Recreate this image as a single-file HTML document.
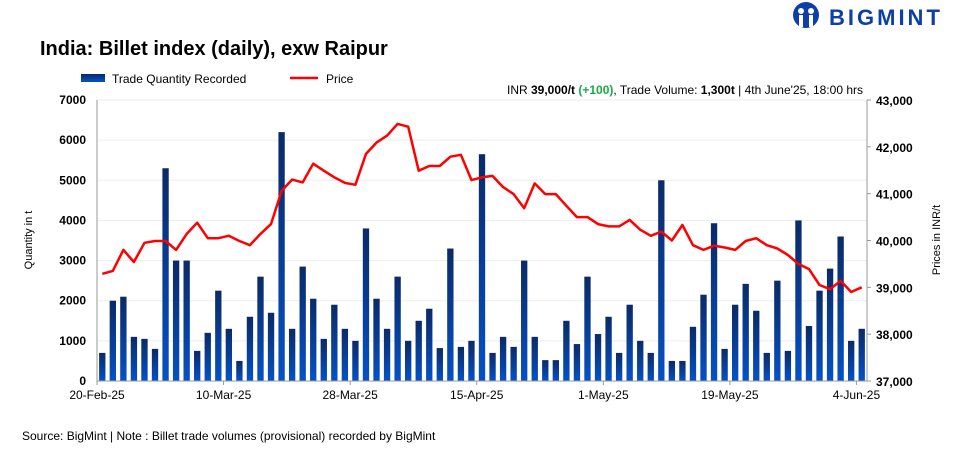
<!DOCTYPE html>
<html><head><meta charset="utf-8"><style>
html,body{margin:0;padding:0;background:#fff;}
body{width:960px;height:448px;overflow:hidden;font-family:"Liberation Sans",sans-serif;}
</style></head><body>
<svg id="chart" width="960" height="448" xmlns="http://www.w3.org/2000/svg" font-family="Liberation Sans, sans-serif">
<defs>
<linearGradient id="bg" x1="0" y1="0" x2="0" y2="1"><stop offset="0" stop-color="#0b2a66"/><stop offset="1" stop-color="#0551c6"/></linearGradient>
</defs>
<g>
<circle cx="806" cy="15" r="13" fill="#0d3fa6"/>
<circle cx="801" cy="11" r="3" fill="#fff"/><circle cx="811" cy="11" r="3" fill="#fff"/>
<rect x="799" y="15" width="4" height="12" fill="#fff"/><rect x="809" y="15" width="4" height="12" fill="#fff"/>
<text x="829" y="25" font-size="22" font-weight="bold" fill="#0d3fa6" letter-spacing="3">BIGMINT</text>
</g>
<text x="40" y="55" font-size="20" font-weight="bold" fill="#000">India: Billet index (daily), exw Raipur</text>
<g>
<rect x="81" y="74" width="24" height="8" fill="url(#bg)"/>
<text x="112" y="83" font-size="12" fill="#000">Trade Quantity Recorded</text>
<line x1="290" y1="78" x2="318" y2="78" stroke="#f00" stroke-width="2.5"/>
<text x="326" y="83" font-size="12" fill="#000">Price</text>
</g>
<text x="863" y="94" font-size="12" text-anchor="end" fill="#000">INR <tspan font-weight="bold">39,000/t</tspan> <tspan font-weight="bold" fill="#1aa84a">(+100)</tspan>, Trade Volume: <tspan font-weight="bold">1,300t</tspan> | 4th June'25, 18:00 hrs</text>
<text transform="translate(32,240) rotate(-90)" font-size="11" text-anchor="middle">Quantity in t</text>
<text transform="translate(940,240) rotate(-90)" font-size="11" text-anchor="middle">Prices in INR/t</text>
<text x="22" y="440" font-size="12" fill="#000">Source: BigMint | Note : Billet trade volumes (provisional) recorded by BigMint</text>
<g id="plot"></g>
</svg>
<script>
const qty=[700,2000,2100,1100,1050,800,5300,3000,3000,750,1200,2250,1300,500,1600,2600,1700,6200,1300,2850,2050,1050,1900,1300,1000,3800,2050,1300,2600,1000,1500,1800,820,3300,850,1000,5650,700,1100,850,3000,1100,520,520,1500,920,2600,1170,1600,700,1900,1000,700,5000,500,500,1350,2150,3930,800,1900,2420,1750,700,2500,750,4000,1370,2250,2800,3600,1000,1300];
const price=[39290,39350,39800,39540,39950,39990,39990,39800,40140,40380,40050,40050,40100,39990,39900,40140,40350,41060,41300,41240,41640,41490,41350,41230,41190,41850,42090,42240,42490,42430,41490,41590,41590,41790,41830,41290,41350,41380,41140,40990,40690,41220,40990,40990,40740,40500,40500,40350,40300,40300,40440,40230,40100,40190,40000,40330,39900,39800,39890,39850,39800,39990,40050,39900,39830,39690,39500,39390,39050,38960,39140,38900,39000];
const leftTicks=[0,1000,2000,3000,4000,5000,6000,7000];
const rightTicks=[37000,38000,39000,40000,41000,42000,43000];
const dateLabels=["20-Feb-25","10-Mar-25","28-Mar-25","15-Apr-25","1-May-25","19-May-25","4-Jun-25"];
const dateIdx=[0,12,24,36,48,60,72];
const NS="http://www.w3.org/2000/svg";
const X0=97,X1=867,Y0=381,Y1=100;
const band=(X1-X0)/qty.length;
const xb=i=>X0+band*i;
const yl=v=>Y0-(v-leftTicks[0])/(leftTicks[leftTicks.length-1]-leftTicks[0])*(Y0-Y1);
const yr=v=>Y0-(v-rightTicks[0])/(rightTicks[rightTicks.length-1]-rightTicks[0])*(Y0-Y1);
const plot=document.getElementById('plot');
function mk(tag,attrs,txt){const e=document.createElementNS(NS,tag);for(const k in attrs)e.setAttribute(k,attrs[k]);if(txt!=null)e.textContent=txt;plot.appendChild(e);return e;}
leftTicks.forEach(t=>{
 const g=mk('line',{x1:X0,x2:X1,y1:yl(t),y2:yl(t),stroke:'#eeeeee','stroke-width':1});
 
 
 const l=mk('text',{x:86,y:yl(t)+4,'font-size':12,'font-weight':'bold','text-anchor':'end'},t.toString());
 
 
});
rightTicks.forEach(t=>{
 const l=mk('text',{x:876,y:yr(t)+5,'font-size':12,'font-weight':'bold'},t.toLocaleString('en-US'));
 
 
 const tk=mk('line',{x1:X1,x2:X1+4,y1:yr(t),y2:yr(t),stroke:'#999'});
 
 
});
const ax=mk('line',{x1:X0,x2:X0,y1:Y1,y2:Y0,stroke:'#999'});


const ax2=mk('line',{x1:X1,x2:X1,y1:Y1,y2:Y0,stroke:'#999'});


qty.forEach((v,i)=>{
 const w=band*0.6;
 const r=mk('rect',{x:xb(i)+(band-w)/2,y:yl(v),width:w,height:Y0-yl(v),fill:'url(#bg)'});
 
 
});
const xa=mk('line',{x1:X0,x2:X1,y1:Y0,y2:Y0,stroke:'#999'});


dateIdx.forEach((d,k)=>{
 const x=xb(d);
 const tk=mk('line',{x1:x,x2:x,y1:Y0,y2:Y0+4,stroke:'#999'});
 
 
 const l=mk('text',{x:x,y:399,'font-size':12,'text-anchor':'middle'},dateLabels[k]);
 
 
});
const pts=price.map((p,i)=>(xb(i)+band/2).toFixed(1)+','+yr(p).toFixed(1)).join(' ');
const pl=mk('polyline',{points:pts,fill:'none',stroke:'#ff0000','stroke-width':2.5,'stroke-linejoin':'round'});


</script>
</body></html>
